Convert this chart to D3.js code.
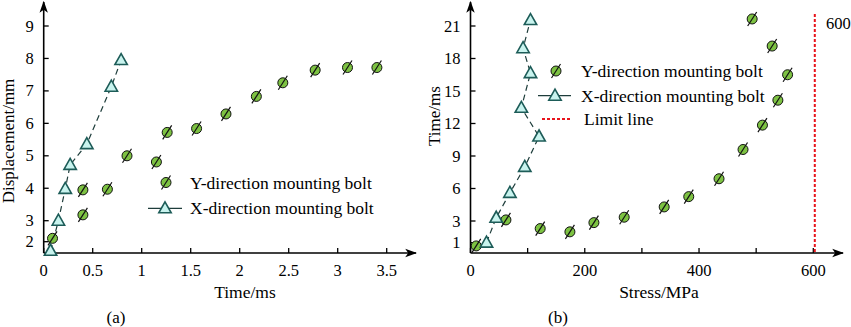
<!DOCTYPE html>
<html>
<head>
<meta charset="utf-8">
<script src="https://cdn.jsdelivr.net/npm/d3@7"></script>
<style>
  body { margin: 0; background: #fff; }
  svg { display: block; font-family: "Liberation Serif", "Times New Roman", serif; }
</style>
</head>
<body>
<svg id="chart" width="851" height="327"></svg>
<script>
// panel (a): displacement vs time
const timeY = [0.09, 0.40, 0.40, 0.65, 0.85, 1.15, 1.26, 1.56, 1.86, 2.17, 2.44, 2.77, 3.10, 3.40]
const dispY = [2.16, 3.18, 3.95, 3.97, 5.00, 4.81, 5.72, 5.84, 6.29, 6.83, 7.25, 7.64, 7.72, 7.72]
const timeX = [0.07, 0.15, 0.22, 0.27, 0.44, 0.69, 0.79]
const dispX = [1.56, 3.00, 3.98, 4.72, 5.36, 7.13, 7.95]
const ticksA_x = [0, 0.5, 1, 1.5, 2, 2.5, 3, 3.5]
const ticksA_y = [2, 3, 4, 5, 6, 7, 8, 9]

// panel (b): time vs stress
const stressY = [10, 62, 122, 174, 216, 269, 339, 382, 435, 477, 511, 538, 555, 528, 493]
const tY = [0.7, 3.1, 2.3, 2.0, 2.85, 3.35, 4.3, 5.25, 6.9, 9.6, 11.85, 14.15, 16.5, 19.15, 21.65]
const stressX = [28, 45, 69, 95, 120, 89, 105, 92, 105]
const tX = [1.0, 3.3, 5.6, 8.0, 10.8, 13.45, 16.65, 18.95, 21.55]
const ticksB_x = [0, 100, 200, 300, 400, 500, 600]
const labelsB_x = [0, 200, 400, 600]
const ticksB_y = [1, 3, 6, 9, 12, 15, 18, 21]
const limitValue = 600

const legendNames = ['Y-direction mounting bolt', 'X-direction mounting bolt', 'Limit line']

const green = '#7dc242', triFill = '#c8f3ee', triStroke = '#1d5c58', lineCol = '#1e3d3b', red = '#e8141c'

const svg = d3.select('#chart')
const baseY = 253

// arrowhead
svg.append('defs').append('marker')
    .attr('id', 'arrow').attr('viewBox', '0 0 10 10')
    .attr('refX', 9).attr('refY', 5)
    .attr('markerWidth', 12).attr('markerHeight', 12)
    .attr('markerUnits', 'userSpaceOnUse')
    .attr('orient', 'auto')
    .append('path').attr('d', 'M0,1.5 L10,5 L0,8.5 L2.5,5 Z').attr('fill', '#000')

function circleMark(g, x, y) {
    let m = g.append('g').attr('transform', `translate(${x},${y})`)
    m.append('circle').attr('r', 5).attr('fill', green).attr('stroke', '#111').attr('stroke-width', 1)
    m.append('line').attr('x1', -4.5).attr('y1', 7).attr('x2', 4.5).attr('y2', -7)
        .attr('stroke', '#111').attr('stroke-width', 1.2)
}

function triMark(g, x, y) {
    g.append('path').attr('d', 'M0,-6.5 L6.2,4.5 L-6.2,4.5 Z')
        .attr('transform', `translate(${x},${y})`)
        .attr('fill', triFill).attr('stroke', triStroke).attr('stroke-width', 1.6)
        .attr('stroke-linejoin', 'miter')
}

function drawAxes(g, x, y, x0, xEnd, yTop, xTicks, xLabels, yTicks, fmtX) {
    // x axis
    g.append('line').attr('x1', x0).attr('x2', xEnd).attr('y1', baseY).attr('y2', baseY)
        .attr('stroke', '#000').attr('stroke-width', 1.6).attr('marker-end', 'url(#arrow)')
    g.append('line').attr('x1', x0).attr('x2', x0).attr('y1', baseY).attr('y2', yTop)
        .attr('stroke', '#000').attr('stroke-width', 1.6).attr('marker-end', 'url(#arrow)')

    g.selectAll('.xt').data(xTicks).enter().append('line')
        .attr('x1', d => x(d)).attr('x2', d => x(d))
        .attr('y1', baseY).attr('y2', baseY - 5)
        .attr('stroke', '#000').attr('stroke-width', 1.3)
    g.selectAll('.xl').data(xLabels).enter().append('text')
        .attr('x', d => x(d)).attr('y', 276)
        .attr('text-anchor', 'middle').attr('font-size', 16.5)
        .text(fmtX)

    g.selectAll('.yt').data(yTicks).enter().append('line')
        .attr('x1', x0).attr('x2', x0 + 5)
        .attr('y1', d => y(d)).attr('y2', d => y(d))
        .attr('stroke', '#000').attr('stroke-width', 1.3)
    g.selectAll('.yl').data(yTicks).enter().append('text')
        .attr('x', x0 - 10).attr('y', d => y(d) + 5.5)
        .attr('text-anchor', 'end').attr('font-size', 16.5)
        .text(d => d)
}

// ---------- panel (a)
const gA = svg.append('g')
const xA = d3.scaleLinear().domain([0, 3.5]).range([43.7, 386.7])
const yA = d3.scaleLinear().domain([1.45, 2, 3, 9]).range([baseY, 241.7, 220.7, 26])

drawAxes(gA, xA, yA, 43.7, 416, 2, ticksA_x, ticksA_x, ticksA_y, d => d)

gA.append('path')
    .datum(d3.zip(timeX, dispX))
    .attr('d', d3.line().x(d => xA(d[0])).y(d => yA(d[1])))
    .attr('fill', 'none').attr('stroke', lineCol).attr('stroke-width', 1.2)
    .attr('stroke-dasharray', '6,4')
timeY.forEach((t, i) => circleMark(gA, xA(t), yA(dispY[i])))
timeX.forEach((t, i) => triMark(gA, xA(t), yA(dispX[i])))

gA.append('text').attr('x', 245).attr('y', 298).attr('text-anchor', 'middle')
    .attr('font-size', 17.5).text('Time/ms')
gA.append('text').attr('transform', 'translate(14,141) rotate(-90)').attr('text-anchor', 'middle')
    .attr('font-size', 17).text('Displacement/mm')
gA.append('text').attr('x', 116).attr('y', 323).attr('text-anchor', 'middle')
    .attr('font-size', 17).text('(a)')

// legend (a)
circleMark(gA, 166, 182.5)
gA.append('text').attr('x', 190).attr('y', 188.5).attr('font-size', 17.5).text(legendNames[0])
gA.append('line').attr('x1', 148).attr('x2', 182).attr('y1', 208.3).attr('y2', 208.3)
    .attr('stroke', lineCol).attr('stroke-width', 1.3)
triMark(gA, 165, 208.3)
gA.append('text').attr('x', 190).attr('y', 214).attr('font-size', 17.5).text(legendNames[1])

// ---------- panel (b)
const gB = svg.append('g')
const xB = d3.scaleLinear().domain([0, 600]).range([470.5, 813.3])
const yB = d3.scaleLinear().domain([0, 21]).range([baseY + 0.5, 26])

drawAxes(gB, xB, yB, 470.5, 843, 2, ticksB_x, labelsB_x, ticksB_y, d => d)

gB.append('path')
    .datum(d3.zip(stressX, tX))
    .attr('d', d3.line().x(d => xB(d[0])).y(d => yB(d[1])))
    .attr('fill', 'none').attr('stroke', lineCol).attr('stroke-width', 1.2)
    .attr('stroke-dasharray', '6,4')
stressY.forEach((s, i) => circleMark(gB, xB(s), yB(tY[i])))
stressX.forEach((s, i) => triMark(gB, xB(s), yB(tX[i])))

gB.append('line')
    .attr('x1', xB(limitValue) + 1.5).attr('x2', xB(limitValue) + 1.5)
    .attr('y1', 14).attr('y2', baseY - 1)
    .attr('stroke', red).attr('stroke-width', 2).attr('stroke-dasharray', '3,2')
gB.append('text').attr('x', 826).attr('y', 29).attr('font-size', 16.5).text(limitValue)

gB.append('text').attr('x', 659).attr('y', 298).attr('text-anchor', 'middle')
    .attr('font-size', 17.5).text('Stress/MPa')
gB.append('text').attr('transform', 'translate(440,116) rotate(-90)').attr('text-anchor', 'middle')
    .attr('font-size', 17).text('Time/ms')
gB.append('text').attr('x', 558).attr('y', 323).attr('text-anchor', 'middle')
    .attr('font-size', 17).text('(b)')

// legend (b)
circleMark(gB, 556, 71)
gB.append('text').attr('x', 581).attr('y', 77).attr('font-size', 17.5).text(legendNames[0])
gB.append('line').attr('x1', 538).attr('x2', 571).attr('y1', 95.7).attr('y2', 95.7)
    .attr('stroke', lineCol).attr('stroke-width', 1.3)
triMark(gB, 555, 95.7)
gB.append('text').attr('x', 581).attr('y', 101.5).attr('font-size', 17.5).text(legendNames[1])
gB.append('line').attr('x1', 542).attr('x2', 572).attr('y1', 119).attr('y2', 119)
    .attr('stroke', red).attr('stroke-width', 2).attr('stroke-dasharray', '3,2')
gB.append('text').attr('x', 584).attr('y', 125).attr('font-size', 17.5).text(legendNames[2])
</script>
</body>
</html>
